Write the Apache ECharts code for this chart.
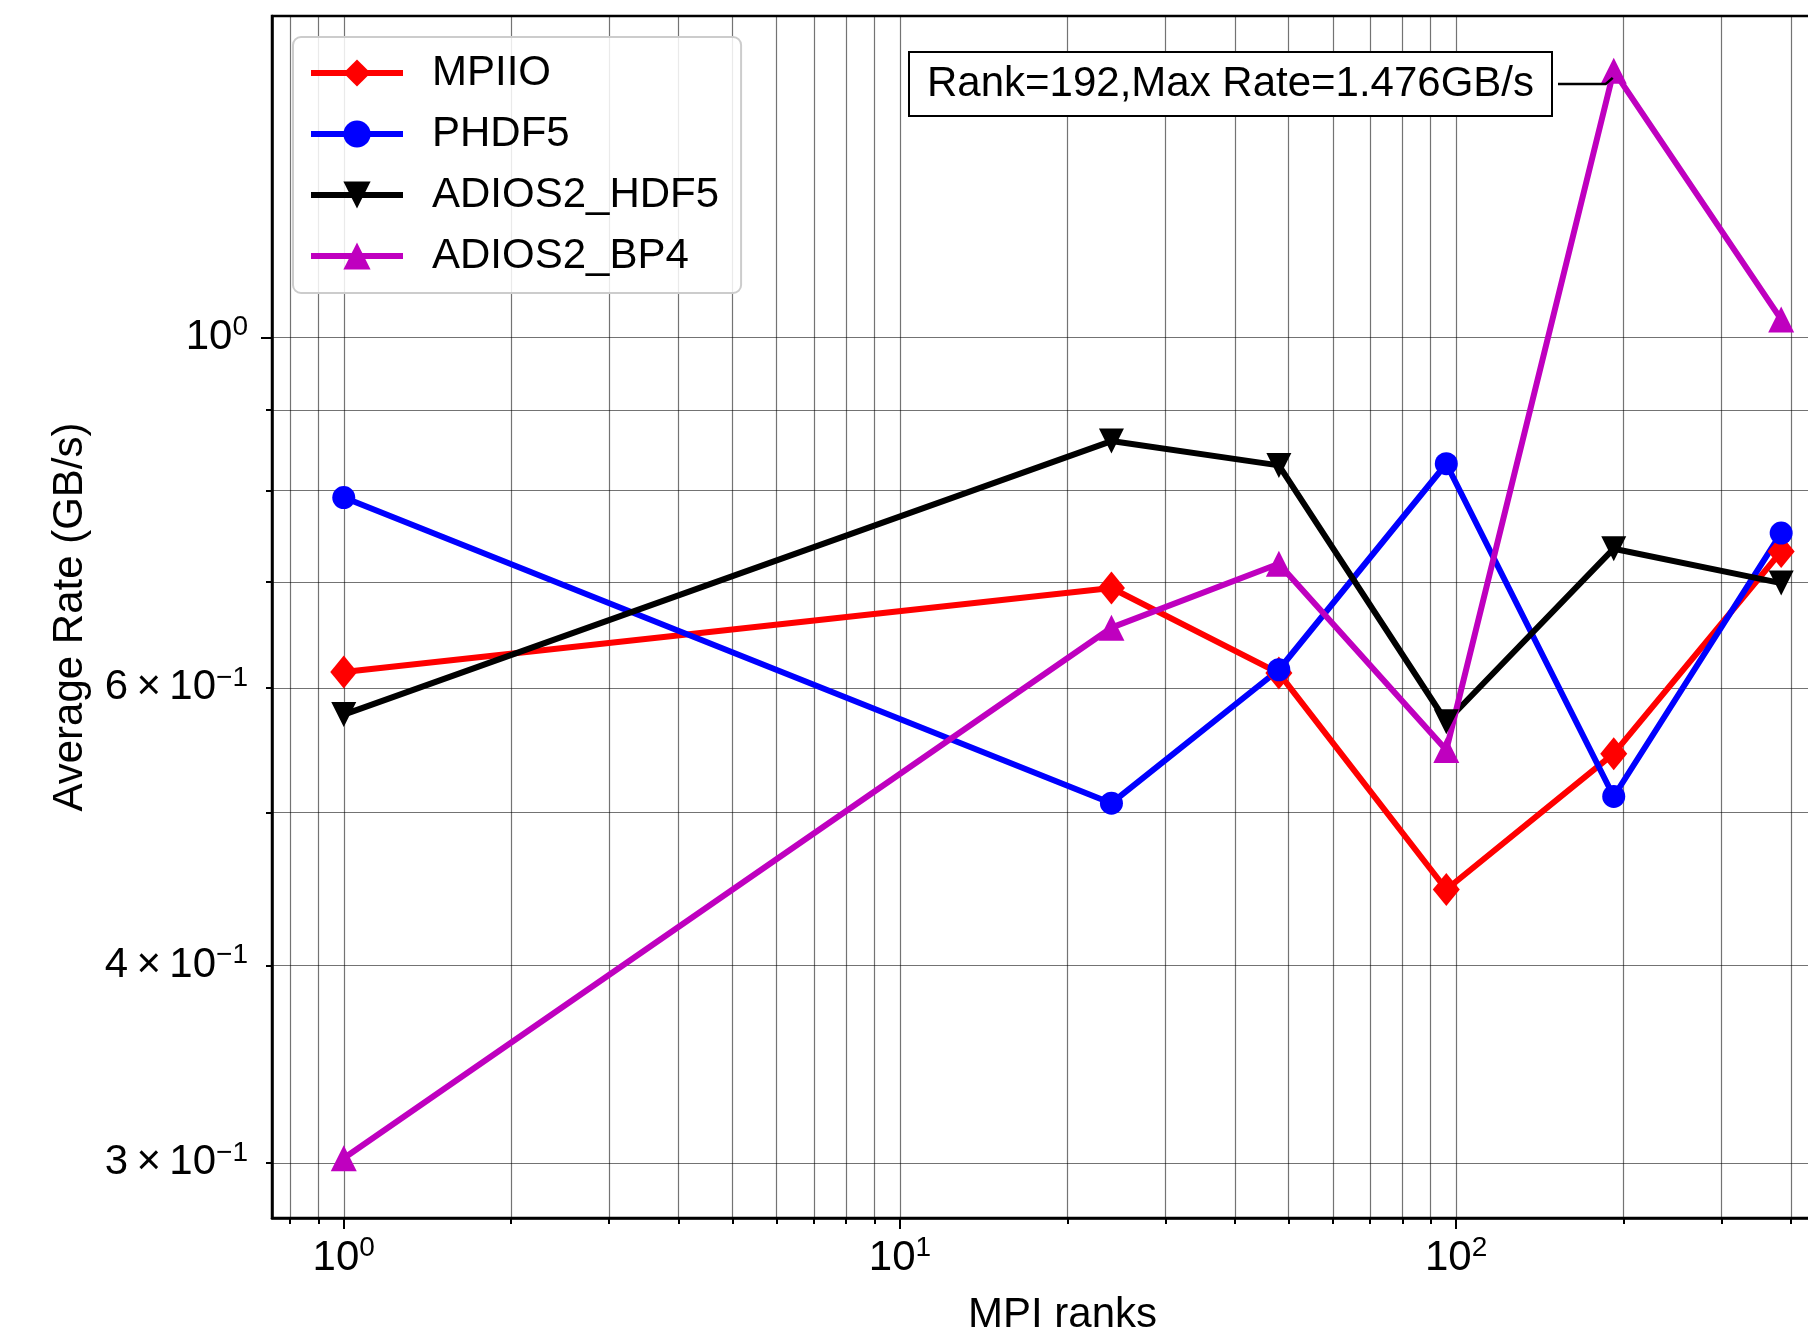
<!DOCTYPE html>
<html>
<head>
<meta charset="utf-8">
<title>Average rate vs MPI ranks</title>
<script src="https://cdn.jsdelivr.net/npm/echarts@6/dist/echarts.min.js"></script>
<style>
  html, body { margin: 0; padding: 0; background: #fff; }
  #chart { width: 1808px; height: 1339px; }
</style>
</head>
<body>
<div id="chart"></div>
<script>
// values (GB/s)
const ranks = [1, 24, 48, 96, 192, 384];
const mpiio = [0.614, 0.694, 0.613, 0.447, 0.545, 0.732];
const phdf5 = [0.792, 0.507, 0.616, 0.832, 0.512, 0.752];
const adios2Hdf5 = [0.577, 0.860, 0.830, 0.571, 0.735, 0.699];
const adios2Bp4 = [0.302, 0.655, 0.719, 0.548, 1.476, 1.027];

// ticks
const xMajorTicks = [1, 10, 100];
const xMinorTicks = [0.8, 0.9, 2, 3, 4, 5, 6, 7, 8, 9, 20, 30, 40, 50, 60, 70, 80, 90, 200, 300, 400, 500];
const yMajorTicks = [1];
const yMinorTicks = [0.3, 0.4, 0.5, 0.6, 0.7, 0.8, 0.9];
const yLabelTicks = [0.3, 0.4, 0.6, 1];

const FONT = '"Liberation Sans", Arial, Helvetica, sans-serif';
const GRID_COLOR = 'rgba(0,0,0,0.55)';

const rich = {
  b: { fontSize: 42, fontFamily: FONT, color: '#000', lineHeight: 48 },
  s: { fontSize: 28, fontFamily: FONT, color: '#000', lineHeight: 26, verticalAlign: 'top' }
};

function expLabel(v) {
  const e = Math.floor(Math.log10(v) + 1e-9);
  const m = Math.round(v / Math.pow(10, e));
  const es = e < 0 ? '\u2212' + (-e) : String(e);
  if (m === 1) return '{b|10}{s|' + es + '}';
  return '{b|' + m + '\u2009\u00d7\u200910}{s|' + es + '}';
}

const pairs = arr => ranks.map((r, i) => [r, arr[i]]);

const chart = echarts.init(document.getElementById('chart'));

const baseLine = (name, values, color, symbol, size, rotate) => ({
  name: name,
  type: 'line',
  data: pairs(values),
  symbol: symbol,
  symbolSize: size,
  symbolRotate: rotate || 0,
  lineStyle: { color: color, width: 6 },
  itemStyle: { color: color },
  emphasis: { disabled: true },
  animation: false
});

chart.setOption({
  animation: false,
  grid: {
    left: 272, top: 16, right: -45, bottom: 121,
    show: true, borderColor: '#000', borderWidth: 2.5,
    containLabel: false, outerBoundsMode: 'none'
  },
  legend: {
    orient: 'vertical',
    left: 293, top: 37,
    padding: [15, 22, 16, 15],
    itemWidth: 92, itemHeight: 34, itemGap: 19,
    backgroundColor: 'rgba(255,255,255,0.85)',
    borderColor: '#cccccc', borderWidth: 2, borderRadius: 8,
    lineStyle: { width: 6 },
    textStyle: { fontSize: 42, fontFamily: FONT, color: '#000', padding: [0, 0, 0, 24] },
    selectedMode: false,
    data: ['MPIIO', 'PHDF5', 'ADIOS2_HDF5', 'ADIOS2_BP4']
  },
  xAxis: [
    {
      type: 'log', logBase: 10, min: 0.743, max: 517, position: 'bottom',
      axisLine: { show: true, lineStyle: { color: '#000', width: 2.5 } },
      axisTick: { show: true, customValues: xMajorTicks.concat(xMinorTicks), length: 6, lineStyle: { color: '#000', width: 2 } },
      axisLabel: { customValues: xMajorTicks, formatter: expLabel, rich: rich, margin: 16 },
      splitLine: { show: true, lineStyle: { color: GRID_COLOR, width: 1.2 } },
      name: 'MPI ranks', nameLocation: 'middle', nameGap: 76, nameMoveOverlap: false,
      nameTextStyle: { fontSize: 42, fontFamily: FONT, color: '#000' }
    },
    {
      type: 'log', logBase: 10, min: 0.743, max: 517, position: 'bottom',
      axisLine: { show: false },
      axisTick: { show: true, customValues: xMajorTicks, length: 11, lineStyle: { color: '#000', width: 2 } },
      axisLabel: { show: false },
      splitLine: { show: false }
    }
  ],
  yAxis: [
    {
      type: 'log', logBase: 10, min: 0.2768, max: 1.599, position: 'left',
      axisLine: { show: true, lineStyle: { color: '#000', width: 2.5 } },
      axisTick: { show: true, customValues: yMinorTicks.concat(yMajorTicks), length: 6, lineStyle: { color: '#000', width: 2 } },
      axisLabel: { customValues: yLabelTicks, formatter: expLabel, rich: rich, margin: 24 },
      splitLine: { show: true, lineStyle: { color: GRID_COLOR, width: 1.2 } },
      name: 'Average Rate (GB/s)', nameLocation: 'middle', nameGap: 181, nameRotate: 90, nameMoveOverlap: false,
      nameTextStyle: { fontSize: 42, fontFamily: FONT, color: '#000' }
    },
    {
      type: 'log', logBase: 10, min: 0.2768, max: 1.599, position: 'left',
      axisLine: { show: false },
      axisTick: { show: true, customValues: yMajorTicks, length: 11, lineStyle: { color: '#000', width: 2 } },
      axisLabel: { show: false },
      splitLine: { show: false }
    }
  ],
  series: [
    baseLine('MPIIO', mpiio, '#ff0000', 'diamond', [27, 33]),
    baseLine('PHDF5', phdf5, '#0000ff', 'circle', 23),
    baseLine('ADIOS2_HDF5', adios2Hdf5, '#000000', 'triangle', 25, 180),
    baseLine('ADIOS2_BP4', adios2Bp4, '#bf00bf', 'triangle', 26)
  ]
});

// annotation for the peak of ADIOS2_BP4
const peakIdx = adios2Bp4.indexOf(Math.max.apply(null, adios2Bp4));
const peakRank = ranks[peakIdx];
const peakRate = adios2Bp4[peakIdx];
const p = chart.convertToPixel({ xAxisIndex: 0, yAxisIndex: 0 }, [peakRank, peakRate]);

chart.setOption({
  graphic: [
    {
      type: 'rect', z: 50,
      shape: { x: 909, y: 52, width: 643, height: 64 },
      style: { fill: '#fff', stroke: '#000', lineWidth: 2 }
    },
    {
      type: 'text', z: 51, x: 1230.5, y: 84,
      style: {
        text: 'Rank=' + peakRank + ',Max Rate=' + peakRate.toFixed(3) + 'GB/s',
        font: '42px ' + FONT, fill: '#000', align: 'center', verticalAlign: 'middle'
      }
    },
    {
      type: 'polyline', z: 50,
      shape: { points: [[1558, 84], [p[0] - 8, 84], [p[0] - 1, p[1] + 7]] },
      style: { stroke: '#000', lineWidth: 2.5, fill: null }
    }
  ]
});
</script>
</body>
</html>
